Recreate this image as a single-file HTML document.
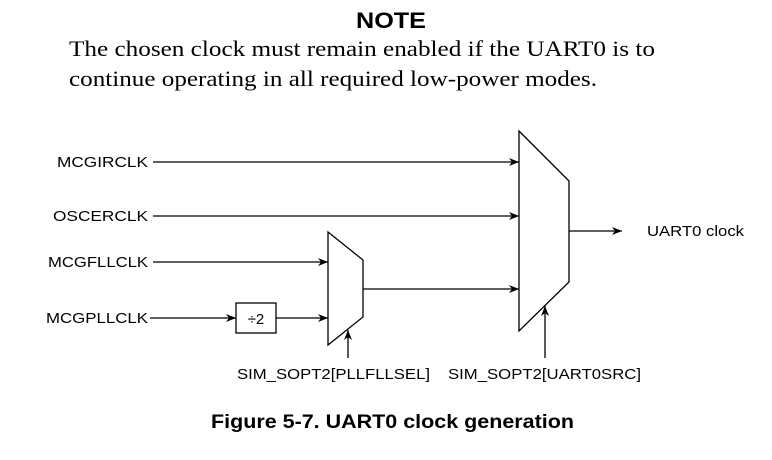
<!DOCTYPE html>
<html><head><style>
body{margin:0;background:#fff;width:772px;height:455px;overflow:hidden}
</style></head><body>
<svg width="772" height="455" xmlns="http://www.w3.org/2000/svg">
<defs><marker id="a" markerWidth="10" markerHeight="8" refX="10" refY="4" orient="auto" markerUnits="userSpaceOnUse"><path d="M0,0 L10,4 L0,8 L3,4 z" fill="#000"/></marker></defs>
<text x="356" y="28" font-family="Liberation Sans" font-weight="bold" font-size="22" textLength="70" lengthAdjust="spacingAndGlyphs">NOTE</text>
<text x="69" y="56" font-family="Liberation Serif" font-size="22" textLength="586" lengthAdjust="spacingAndGlyphs">The chosen clock must remain enabled if the UART0 is to</text>
<text x="69" y="86" font-family="Liberation Serif" font-size="22" textLength="528" lengthAdjust="spacingAndGlyphs">continue operating in all required low-power modes.</text>
<g font-family="Liberation Sans" font-size="15" fill="#000">
<text x="57" y="167" textLength="91" lengthAdjust="spacingAndGlyphs">MCGIRCLK</text>
<text x="53" y="221" textLength="95" lengthAdjust="spacingAndGlyphs">OSCERCLK</text>
<text x="48" y="267" textLength="100" lengthAdjust="spacingAndGlyphs">MCGFLLCLK</text>
<text x="46" y="323" textLength="102" lengthAdjust="spacingAndGlyphs">MCGPLLCLK</text>
<text x="256" y="324" text-anchor="middle">÷2</text>
<text x="647" y="236" textLength="97" lengthAdjust="spacingAndGlyphs">UART0 clock</text>
<text x="237" y="379" textLength="193" lengthAdjust="spacingAndGlyphs">SIM_SOPT2[PLLFLLSEL]</text>
<text x="448" y="379" textLength="193" lengthAdjust="spacingAndGlyphs">SIM_SOPT2[UART0SRC]</text>
</g>
<g stroke="#000" stroke-width="1.3" fill="none">
<path d="M519,131 L569,181 L569,282 L519,331 Z"/>
<path d="M328,232 L363,260 L363,317 L328,345 Z"/>
<rect x="236" y="303" width="40" height="30"/>
<line x1="153" y1="162" x2="519" y2="162" marker-end="url(#a)"/>
<line x1="153" y1="216" x2="519" y2="216" marker-end="url(#a)"/>
<line x1="153" y1="262" x2="328" y2="262" marker-end="url(#a)"/>
<line x1="150" y1="318" x2="236" y2="318" marker-end="url(#a)"/>
<line x1="276" y1="318" x2="328" y2="318" marker-end="url(#a)"/>
<line x1="363" y1="289" x2="519" y2="289" marker-end="url(#a)"/>
<line x1="569" y1="231" x2="622" y2="231" marker-end="url(#a)"/>
<line x1="348" y1="358" x2="348" y2="330" marker-end="url(#a)"/>
<line x1="545" y1="358" x2="545" y2="306" marker-end="url(#a)"/>
</g>
<text x="211" y="428" font-family="Liberation Sans" font-weight="bold" font-size="19" textLength="363" lengthAdjust="spacingAndGlyphs">Figure 5-7. UART0 clock generation</text>
</svg>
</body></html>
